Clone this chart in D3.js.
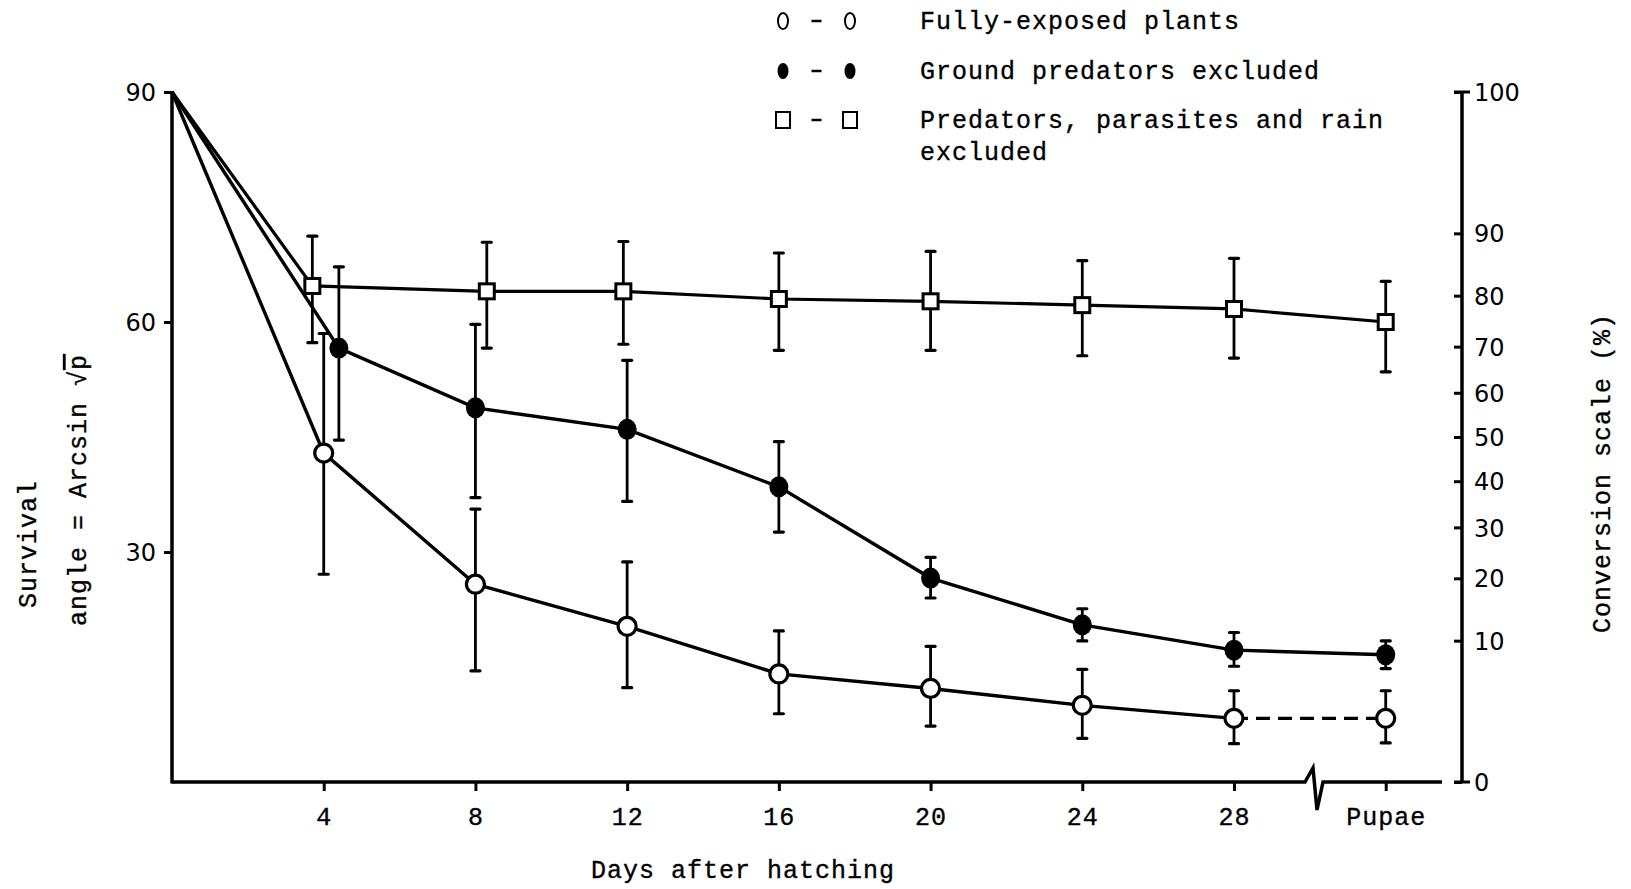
<!DOCTYPE html>
<html>
<head>
<meta charset="utf-8">
<script src="https://cdn.jsdelivr.net/npm/d3@7"></script>
<style>
  html, body { margin: 0; padding: 0; background: #fff; }
  svg { display: block; }
  .mono { font-family: "Liberation Mono", "DejaVu Sans Mono", monospace; font-size: 25px; letter-spacing: 1px; fill: #000; stroke: #000; stroke-width: 0.35px; }
  .num { font-family: "DejaVu Sans", sans-serif; font-size: 24px; fill: #000; }
</style>
</head>
<body>
<script>
// ---------------- DATA ----------------
// x position (days after hatching; "Pupae" placed at day 32)
const xTickDays   = [4, 8, 12, 16, 20, 24, 28, 32];
const xTickLabels = ["4", "8", "12", "16", "20", "24", "28", "Pupae"];

const leftTicks  = [30, 60, 90];                               // angle
const rightTicks = [0, 10, 20, 30, 40, 50, 60, 70, 80, 90, 100]; // percent

// Fully-exposed plants (open circles)
const openDays = [0, 4, 8, 12, 16, 20, 24, 28, 32];
const openVals = [90, 42.9, 25.8, 20.3, 14.1, 12.2, 10.0, 8.3, 8.3];
const openHi   = [null, 58.5, 35.6, 28.7, 19.7, 17.7, 14.7, 11.9, 11.9];
const openLo   = [null, 27.1, 14.5, 12.3, 8.9, 7.3, 5.7, 5.0, 5.1];

// Ground predators excluded (filled circles)
const fillDays = [0, 4.4, 8, 12, 16, 20, 24, 28, 32];
const fillVals = [90, 56.6, 48.8, 46.0, 38.5, 26.6, 20.5, 17.2, 16.6];
const fillHi   = [null, 67.2, 59.7, 55.0, 44.4, 29.3, 22.6, 19.5, 18.4];
const fillLo   = [null, 44.6, 37.1, 36.6, 32.6, 24.0, 18.4, 15.1, 14.8];

// Predators, parasites and rain excluded (open squares)
const sqDays = [0, 3.7, 8.3, 11.9, 16, 20, 24, 28, 32];
const sqVals = [90, 64.7, 64.0, 64.0, 63.0, 62.7, 62.2, 61.7, 60.0];
const sqHi   = [null, 71.2, 70.4, 70.5, 69.0, 69.2, 68.0, 68.3, 65.3];
const sqLo   = [null, 57.3, 56.6, 57.1, 56.3, 56.3, 55.6, 55.3, 53.5];

const legendLabels = [
  ["Fully-exposed plants"],
  ["Ground predators excluded"],
  ["Predators, parasites and rain", "excluded"]
];

// ---------------- CHART ----------------
const W = 1631, H = 889;
const svg = d3.select("body").append("svg").attr("width", W).attr("height", H);

const x = d3.scaleLinear().domain([0, 28]).range([172, 1234]);
const y = d3.scaleLinear().domain([0, 90]).range([782, 92]);
const pctToAngle = p => Math.asin(Math.sqrt(p / 100)) * 180 / Math.PI;

const x0 = x(0), yBase = y(0), rightX = 1462;
const ink = "#000";

// left axis
const gL = svg.append("g").attr("transform", `translate(${x0},0)`)
  .call(d3.axisLeft(y).tickValues(leftTicks).tickSizeInner(8).tickSizeOuter(0).tickPadding(8).tickFormat(d3.format("d")));
gL.select(".domain").remove();
gL.selectAll(".tick line").attr("stroke", ink).attr("stroke-width", 3);
gL.selectAll(".tick text").attr("class", "num").attr("font-size", null).attr("font-family", null).attr("dy", "0.36em");
svg.append("line").attr("x1", x0).attr("x2", x0).attr("y1", y(90) - 1).attr("y2", yBase + 1.5)
  .attr("stroke", ink).attr("stroke-width", 3.5);

// bottom axis (with break)
const breakX = 1305;
const axisEnd = 1442;
svg.append("path")
  .attr("d", d3.line()([[x0, yBase], [breakX, yBase], [breakX + 8, yBase - 14], [breakX + 12, yBase + 28], [breakX + 18, yBase], [axisEnd, yBase]]))
  .attr("fill", "none").attr("stroke", ink).attr("stroke-width", 3.5).attr("stroke-linejoin", "miter");
const gB = svg.append("g").attr("transform", `translate(0,${yBase})`)
  .call(d3.axisBottom(x).tickValues(xTickDays).tickSizeInner(9).tickSizeOuter(0).tickPadding(16)
    .tickFormat((d, i) => xTickLabels[i]));
gB.select(".domain").remove();
gB.selectAll(".tick line").attr("stroke", ink).attr("stroke-width", 3);
gB.selectAll(".tick text").attr("class", "mono").attr("font-size", null).attr("font-family", null).attr("dy", "0.71em");

// right axis (conversion scale)
const gR = svg.append("g").attr("transform", `translate(${rightX},0)`)
  .call(d3.axisRight(y).tickValues(rightTicks.map(pctToAngle)).tickSizeInner(-8).tickSizeOuter(0).tickPadding(12)
    .tickFormat((d, i) => rightTicks[i]));
gR.select(".domain").remove();
gR.selectAll(".tick line").attr("stroke", ink).attr("stroke-width", 3);
gR.selectAll(".tick text").attr("class", "num").attr("font-size", null).attr("font-family", null).attr("dy", "0.36em");
svg.append("line").attr("x1", rightX).attr("x2", rightX).attr("y1", y(90)).attr("y2", yBase)
  .attr("stroke", ink).attr("stroke-width", 3.5);
[0, 100].forEach(p => {
  svg.append("line").attr("x1", rightX - 8).attr("x2", rightX + 8)
    .attr("y1", y(pctToAngle(p))).attr("y2", y(pctToAngle(p)))
    .attr("stroke", ink).attr("stroke-width", 3);
});

// series helpers
const line = d3.line().x(d => x(d[0])).y(d => y(d[1]));
function pts(days, vals) { return days.map((d, i) => [d, vals[i]]); }

const openPts = pts(openDays, openVals);
const fillPts = pts(fillDays, fillVals);
const sqPts = pts(sqDays, sqVals);

// lines
svg.append("path").attr("d", line(sqPts)).attr("fill", "none").attr("stroke", ink).attr("stroke-width", 3.2);
svg.append("path").attr("d", line(fillPts)).attr("fill", "none").attr("stroke", ink).attr("stroke-width", 3.4);
svg.append("path").attr("d", line(openPts.slice(0, 8))).attr("fill", "none").attr("stroke", ink).attr("stroke-width", 3.4);
svg.append("path").attr("d", line(openPts.slice(7))).attr("fill", "none").attr("stroke", ink)
  .attr("stroke-width", 3.4).attr("stroke-dasharray", "14 8");

// error bars
function errorBars(days, hi, lo) {
  const g = svg.append("g");
  days.forEach((d, i) => {
    if (hi[i] == null) return;
    const cx = x(d);
    g.append("line").attr("x1", cx).attr("x2", cx).attr("y1", y(hi[i])).attr("y2", y(lo[i]))
      .attr("stroke", ink).attr("stroke-width", 2.8);
    [hi[i], lo[i]].forEach(v => {
      g.append("line").attr("x1", cx - 4.5).attr("x2", cx + 4.5).attr("y1", y(v)).attr("y2", y(v))
        .attr("stroke", ink).attr("stroke-width", 3.2).attr("stroke-linecap", "round");
    });
  });
}
errorBars(sqDays, sqHi, sqLo);
errorBars(fillDays, fillHi, fillLo);
errorBars(openDays, openHi, openLo);

// markers
svg.append("g").selectAll("rect").data(sqPts.slice(1)).join("rect")
  .attr("x", d => x(d[0]) - 7.5).attr("y", d => y(d[1]) - 7.5).attr("width", 15).attr("height", 15)
  .attr("fill", "#fff").attr("stroke", ink).attr("stroke-width", 3);
svg.append("g").selectAll("ellipse").data(fillPts.slice(1)).join("ellipse")
  .attr("cx", d => x(d[0])).attr("cy", d => y(d[1])).attr("rx", 9.5).attr("ry", 10.5)
  .attr("fill", ink);
svg.append("g").selectAll("circle").data(openPts.slice(1)).join("circle")
  .attr("cx", d => x(d[0])).attr("cy", d => y(d[1])).attr("r", 9)
  .attr("fill", "#fff").attr("stroke", ink).attr("stroke-width", 3.2);

// legend
const legY = [21, 71, 120];
const symX = [783, 816.5, 850];
const lg = svg.append("g");
// row 1: open ovals
[symX[0], symX[2]].forEach(sx => lg.append("ellipse").attr("cx", sx).attr("cy", legY[0]).attr("rx", 5).attr("ry", 8)
  .attr("fill", "none").attr("stroke", ink).attr("stroke-width", 2));
// row 2: filled ovals
[symX[0], symX[2]].forEach(sx => lg.append("ellipse").attr("cx", sx).attr("cy", legY[1]).attr("rx", 5.5).attr("ry", 8)
  .attr("fill", ink));
// row 3: squares
[symX[0], symX[2]].forEach(sx => lg.append("rect").attr("x", sx - 7).attr("y", legY[2] - 8).attr("width", 14).attr("height", 16)
  .attr("fill", "none").attr("stroke", ink).attr("stroke-width", 2));
legY.forEach(ly => lg.append("line").attr("x1", symX[1] - 5).attr("x2", symX[1] + 5).attr("y1", ly).attr("y2", ly)
  .attr("stroke", ink).attr("stroke-width", 2.5));
legendLabels.forEach((lines, i) => {
  lines.forEach((t, j) => {
    lg.append("text").attr("class", "mono").attr("x", 920).attr("y", legY[i] + 8 + j * 32).text(t);
  });
});

// axis titles
svg.append("text").attr("class", "mono").attr("text-anchor", "middle")
  .attr("x", 743).attr("y", 878).text("Days after hatching");

svg.append("text").attr("class", "mono").attr("text-anchor", "middle")
  .attr("transform", "translate(36,544) rotate(-90)").text("Survival");
const t2 = svg.append("text").attr("class", "mono").attr("text-anchor", "middle")
  .attr("transform", "translate(86,490) rotate(-90)");
t2.append("tspan").text("angle = Arcsin ");
t2.append("tspan").text("√");
t2.append("tspan").attr("text-decoration", "overline").style("text-decoration", "overline").text("p");

svg.append("text").attr("class", "mono").attr("text-anchor", "middle")
  .attr("transform", "translate(1610,473) rotate(-90)").text("Conversion scale (%)");
</script>
</body>
</html>
